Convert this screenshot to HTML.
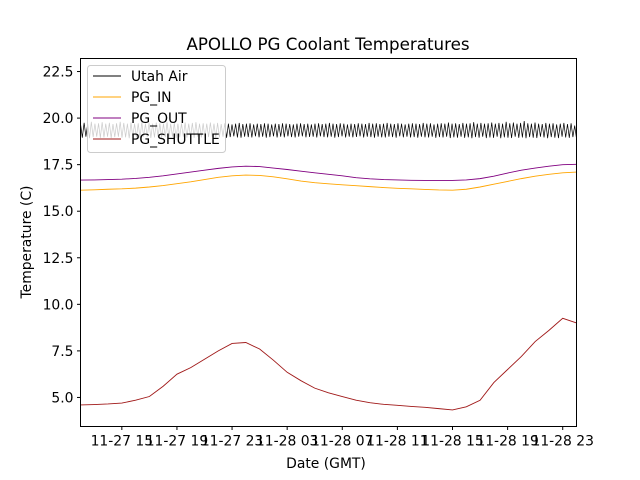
<!DOCTYPE html>
<html><head><meta charset="utf-8"><style>
body{margin:0;background:#fff}
svg{display:block;font-family:"DejaVu Sans","Liberation Sans",sans-serif}
</style></head><body>
<svg id="chart" width="640" height="480" viewBox="0 0 640 480" xmlns="http://www.w3.org/2000/svg">
<rect width="640" height="480" fill="#fff"/>
<text x="328" y="50" font-size="16.7" text-anchor="middle">APOLLO PG Coolant Temperatures</text>
<g id="series"></g>
<g id="axes"></g>
<text x="326" y="468" font-size="13.9" text-anchor="middle">Date (GMT)</text>
<text transform="translate(31,242) rotate(-90)" font-size="13.9" text-anchor="middle">Temperature (C)</text>
<g id="legend"></g>
</svg>
<script>
const xTickHours=[3,7,11,15,19,23,27,31,35];
const xTickLabels=["11-27 15","11-27 19","11-27 23","11-28 03","11-28 07","11-28 11","11-28 15","11-28 19","11-28 23"];
const yTicks=[5.0,7.5,10.0,12.5,15.0,17.5,20.0,22.5];
const seriesNames=["Utah Air","PG_IN","PG_OUT","PG_SHUTTLE"];
const pgIn=[16.13,16.15,16.18,16.2,16.24,16.3,16.38,16.48,16.58,16.7,16.82,16.9,16.94,16.92,16.85,16.74,16.62,16.53,16.47,16.42,16.37,16.32,16.27,16.23,16.2,16.17,16.14,16.13,16.18,16.3,16.45,16.6,16.75,16.88,16.98,17.06,17.1];
const pgOut=[16.67,16.68,16.7,16.72,16.76,16.82,16.9,17.0,17.1,17.2,17.3,17.38,17.42,17.4,17.32,17.24,17.15,17.06,16.98,16.9,16.8,16.74,16.7,16.68,16.66,16.65,16.65,16.65,16.68,16.75,16.88,17.05,17.2,17.32,17.42,17.5,17.52];
const pgShuttle=[4.6,4.62,4.65,4.7,4.85,5.05,5.6,6.25,6.6,7.05,7.5,7.9,7.95,7.6,7.0,6.35,5.9,5.5,5.25,5.05,4.85,4.72,4.63,4.58,4.52,4.47,4.4,4.33,4.5,4.85,5.8,6.5,7.2,8.0,8.6,9.25,9.0];
const airHigh=[19.7,19.75,19.7,19.8,19.7,19.72,19.78,19.7,19.75,19.68,19.72,19.8,19.74,19.7,19.76,19.7,19.72,19.78,19.7,19.74,19.7,19.76,19.72,19.7,19.78,19.7,19.74,19.7,19.72,19.76,19.7,19.74,19.78,19.7,19.72,19.7,19.76,19.7,19.74,19.68,19.72,19.7,19.66,19.7,19.74,19.68,19.7,19.72,19.66,19.7,19.68,19.72,19.7,19.66,19.7,19.68,19.72,19.7,19.68,19.66,19.7,19.72,19.68,19.7,19.66,19.7,19.72,19.68,19.7,19.74,19.7,19.68,19.72,19.7,19.66,19.7,19.68,19.72,19.7,19.68,19.74,19.7,19.72,19.68,19.7,19.74,19.7,19.68,19.72,19.7,19.66,19.7,19.72,19.7,19.68,19.74,19.7,19.72,19.66,19.7,19.72,19.7,19.76,19.7,19.72,19.68,19.74,19.7,19.72,19.78,19.7,19.74,19.7,19.72,19.76,19.7,19.74,19.7,19.8,19.72,19.76,19.7,19.74,19.84,19.72,19.7,19.76,19.7,19.68,19.74,19.7,19.72,19.66,19.7,19.74,19.68,19.72,19.6];
const airLow=[18.95,19.0,18.92,18.98,19.0,18.94,18.96,19.0,18.93,18.98,19.0,18.95,18.97,18.92,19.0,18.96,18.94,19.0,18.98,18.93,18.96,19.0,18.94,18.98,18.95,19.0,18.93,18.97,19.0,18.95,18.98,18.94,19.0,18.96,18.93,18.98,19.0,18.95,18.97,19.0,18.94,18.98,19.02,18.96,18.95,19.0,18.98,18.96,19.02,18.97,19.0,18.95,18.98,19.02,18.96,19.0,18.97,19.02,18.98,18.96,19.0,19.02,18.97,18.99,19.0,18.96,19.02,18.98,18.97,19.0,18.95,18.98,19.02,18.96,19.0,18.97,18.99,19.02,18.96,19.0,18.98,18.95,19.0,18.97,18.96,19.0,18.98,18.95,19.02,18.97,19.0,18.96,18.98,18.95,19.0,18.97,18.96,19.0,18.94,18.98,18.96,19.0,18.93,18.97,18.95,19.0,18.94,18.97,18.92,18.98,18.95,19.0,18.93,18.96,18.94,19.0,18.92,18.97,18.95,18.93,19.0,18.94,18.96,18.92,18.98,18.95,18.93,19.0,18.96,18.92,18.98,18.95,18.93,19.0,18.96,18.94,18.98,18.9];
const NS="http://www.w3.org/2000/svg";
const L=80.5,R=576.5,T=58.5,B=426.5,H0=0,H1=36,Y0=3.44,Y1=23.2;
const xs=h=>L+(h-H0)/(H1-H0)*(R-L);
const ys=v=>B-(v-Y0)/(Y1-Y0)*(B-T);
function mk(tag,attrs,parent){const e=document.createElementNS(NS,tag);for(const k in attrs)e.setAttribute(k,attrs[k]);parent.appendChild(e);return e;}
const sg=document.getElementById('series');
const ax=document.getElementById('axes');
const lg=document.getElementById('legend');
let airPts=[];
for(let i=0;i<airHigh.length;i++){
  const n=airHigh.length*2;
  airPts.push(xs(H0+(2*i)/(n-1)*(H1-H0)).toFixed(2)+","+ys(airHigh[i]).toFixed(2));
  airPts.push(xs(H0+(2*i+1)/(n-1)*(H1-H0)).toFixed(2)+","+ys(airLow[i]).toFixed(2));
}
const colors=["#000","#ffa500","#800080","#a01818"];
const p0=mk('polyline',{points:airPts.join(' '),fill:'none',stroke:colors[0],'stroke-width':0.7},sg);


function line(arr,color,name){
  const pts=arr.map((v,i)=>xs(H0+i*(H1-H0)/(arr.length-1)).toFixed(2)+","+ys(v).toFixed(2)).join(' ');
  const p=mk('polyline',{points:pts,fill:'none',stroke:color,'stroke-width':0.9},sg);
  
  
}
line(pgIn,colors[1],'pg-in-line');
line(pgOut,colors[2],'pg-out-line');
line(pgShuttle,colors[3],'pg-shuttle-line');
const fr=mk('rect',{x:L,y:T,width:R-L,height:B-T,fill:'none',stroke:'#000','stroke-width':1},ax);


yTicks.forEach(v=>{
  const y=ys(v);
  const t=mk('line',{x1:L-3.5,x2:L,y1:y,y2:y,stroke:'#000','stroke-width':1},ax);
  
  
  const tx=mk('text',{x:L-7,y:y+5,'font-size':13.9,'text-anchor':'end'},ax);
  tx.textContent=v.toFixed(1);
  
  
});
xTickHours.forEach((h,i)=>{
  const x=xs(h);
  const t=mk('line',{x1:x,x2:x,y1:B,y2:B+3.5,stroke:'#000','stroke-width':1},ax);
  
  
  const tx=mk('text',{x:x,y:B+19,'font-size':13.9,'text-anchor':'middle'},ax);
  tx.textContent=xTickLabels[i];
  
  
});
const lb=mk('rect',{x:87.5,y:65.5,width:138,height:87,rx:3,fill:'rgba(255,255,255,0.8)',stroke:'#ccc','stroke-width':1},lg);


seriesNames.forEach((n,i)=>{
  const y=76+i*21;
  const l=mk('line',{x1:93,x2:121,y1:y,y2:y,stroke:colors[i],'stroke-width':1},lg);
  
  
  const t=mk('text',{x:131,y:y+5,'font-size':13.9},lg);
  t.textContent=n;
  
  
});
</script>
</body></html>
